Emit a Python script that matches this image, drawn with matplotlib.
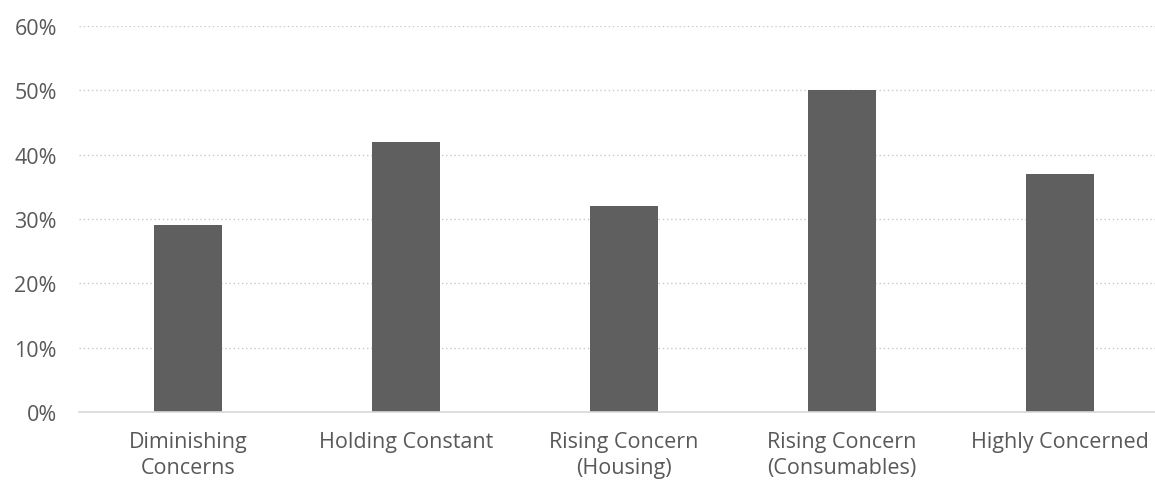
import matplotlib.pyplot as plt
from matplotlib.ticker import PercentFormatter

categories = ["Diminishing\nConcerns", "Holding Constant", "Rising Concern\n(Housing)",
              "Rising Concern\n(Consumables)", "Highly Concerned"]
values = [29, 42, 32, 50, 37]
y_ticks = [0, 10, 20, 30, 40, 50, 60]

plt.rcParams['font.family'] = ['Open Sans', 'DejaVu Sans']

fig = plt.figure(figsize=(11.55, 4.85), dpi=100)
ax = fig.add_axes([79 / 1155, 1 - 413 / 485, 1076 / 1155, 386 / 485])

x = range(len(categories))
ax.bar(x, values, width=0.31, color="#5f5f5f", zorder=3)

ax.set_ylim(0, 60)
ax.set_xlim(-0.5, 4.5 - 14 / 218)
ax.set_yticks(y_ticks)
ax.yaxis.set_major_formatter(PercentFormatter(decimals=0))
ax.set_xticks(list(x))
ax.set_xticklabels(categories, fontsize=15.5, color="#595959", linespacing=1.35)
ax.tick_params(axis="y", labelsize=15.5, labelcolor="#595959", length=0, pad=16)
ax.tick_params(axis="x", length=0, pad=13.5)

ax.grid(axis="y", linestyle=(0, (1, 2)), color="#c8c8c8", linewidth=1, zorder=0)
for s in ["top", "right", "left"]:
    ax.spines[s].set_visible(False)
ax.spines["bottom"].set_color("#d9d9d9")
ax.spines["bottom"].set_linewidth(1.2)
ax.spines["bottom"].set_zorder(4)

fig.savefig("out.png", dpi=100)
